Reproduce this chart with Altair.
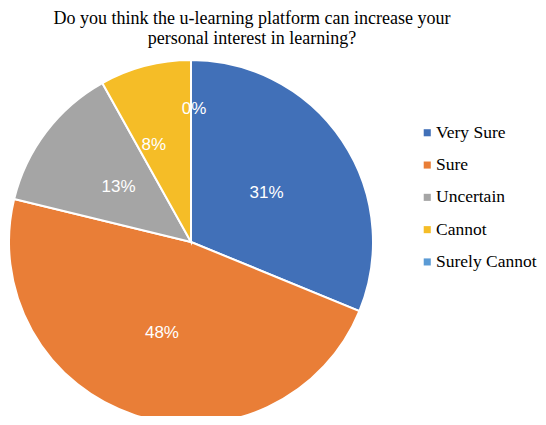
import altair as alt
import pandas as pd

categories = ["Very Sure", "Sure", "Uncertain", "Cannot", "Surely Cannot"]
values = [31.2, 47.6, 13.1, 8.1, 0.0]
colors = ["#4170B8", "#E97E37", "#A5A5A5", "#F5BD27", "#5B9BD5"]

total = sum(values)
df = pd.DataFrame({
    "category": categories,
    "value": values,
    "order": list(range(len(categories))),
    "label": [f"{round(v / total * 100):d}%" for v in values],
})

theta_scale = alt.Scale(domain=[0, total])

color = alt.Color(
    "category:N",
    scale=alt.Scale(domain=categories, range=colors),
    sort=categories,
    legend=alt.Legend(
        title=None,
        orient="none",
        legendX=410.5,
        legendY=56,
        symbolType="square",
        symbolSize=50,
        symbolStrokeWidth=0,
        labelFont="Liberation Serif",
        labelFontSize=17.5,
        labelColor="#000000",
        labelLimit=300,
        rowPadding=13.3,
        labelOffset=0,
    ),
)

arcs = alt.Chart(df).mark_arc(outerRadius=182, stroke="white", strokeWidth=2).encode(
    theta=alt.Theta("value:Q", stack=True, scale=theta_scale),
    order=alt.Order("order:Q"),
    color=color,
)

text_base = alt.Chart(df).transform_window(
    cum="sum(value)", sort=[alt.SortField("order")]
).transform_calculate(
    mid="datum.cum - datum.value / 2"
)

def lbl(cats, r, dx=0, dy=0):
    return text_base.transform_filter(
        alt.FieldOneOfPredicate(field="category", oneOf=cats)
    ).mark_text(
        radius=r, font="Liberation Sans", fontSize=17, color="white",
        align="center", baseline="middle", dx=dx, dy=dy,
    ).encode(
        theta=alt.Theta("mid:Q", stack=None, scale=theta_scale),
        text="label:N",
    )

chart = alt.layer(
    arcs,
    lbl(["Very Sure"], 91, 0, 2),
    lbl(["Sure"], 94, 0, 2),
    lbl(["Uncertain"], 91),
    lbl(["Cannot"], 104, -11, 4),
    lbl(["Surely Cannot"], 135, 3, 2),
).properties(
    width=366,
    height=348,
    autosize=alt.AutoSizeParams(type="none"),
    padding={"left": 0, "top": 60, "right": 164, "bottom": 0},
    title=alt.TitleParams(
        text=["Do you think the u-learning platform can increase your",
              "personal interest in learning?"],
        font="Liberation Serif",
        fontSize=18,
        fontWeight="normal",
        color="#000000",
        lineHeight=20,
        anchor="middle",
        dx=61,
        offset=8,
    ),
).configure_view(stroke=None)

chart.save("out.html", embed_options={"renderer": "svg", "actions": False})
